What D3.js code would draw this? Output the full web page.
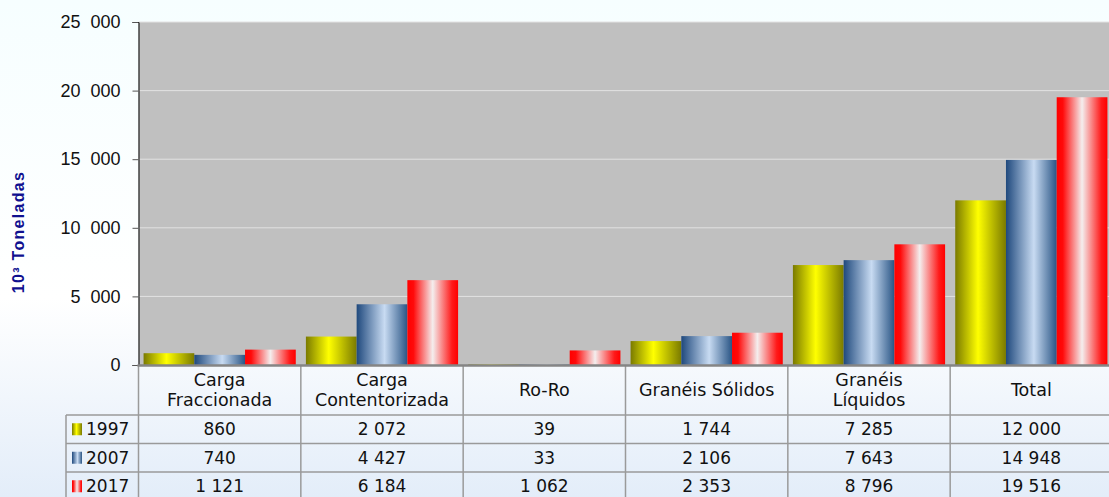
<!DOCTYPE html>
<html>
<head>
<meta charset="utf-8">
<script src="https://cdn.jsdelivr.net/npm/d3@7"></script>
<style>
  html, body { margin: 0; padding: 0; overflow: hidden; }
  body { width: 1109px; height: 497px; }
</style>
</head>
<body>
<div id="chart"></div>
<script>
const categories = ["Carga\nFraccionada", "Carga\nContentorizada", "Ro-Ro", "Granéis Sólidos", "Granéis\nLíquidos", "Total"];
const years = ["1997", "2007", "2017"];
const values1997 = [860, 2072, 39, 1744, 7285, 12000];
const values2007 = [740, 4427, 33, 2106, 7643, 14948];
const values2017 = [1121, 6184, 1062, 2353, 8796, 19516];
const yTicks = [0, 5000, 10000, 15000, 20000, 25000];
const yLabel = "10³ Toneladas";

const series = [values1997, values2007, values2017];

function renderChart() {
    const width = 1109, height = 497;
    const plotLeft = 138.5, plotRight = 1112.5, plotTop = 22, plotBottom = 365;
    const rowH = 28.5, headerBottom = 415, legendLeft = 66;

    const svg = d3.select("#chart").html("").append("svg")
        .attr("width", width)
        .attr("height", height);

    const defs = svg.append("defs");
    const bg = defs.append("linearGradient").attr("id", "bg")
        .attr("x1", 0).attr("y1", 0).attr("x2", 0).attr("y2", 1);
    bg.append("stop").attr("offset", "0%").attr("stop-color", "#f6feff");
    bg.append("stop").attr("offset", "60%").attr("stop-color", "#ffffff");
    bg.append("stop").attr("offset", "100%").attr("stop-color", "#e3edf9");

    // bar fills: horizontal shading
    const fills = [
        [["0%", "#7a7a00"], ["45%", "#ffff00"], ["100%", "#7a7a00"]],
        [["0%", "#1f497d"], ["55%", "#c8dbf2"], ["100%", "#2a5585"]],
        [["0%", "#ff0000"], ["12%", "#ff0a0a"], ["50%", "#f4eeee"], ["88%", "#ff1a1a"], ["100%", "#ff0000"]]
    ];
    fills.forEach((stops, i) => {
        const g = defs.append("linearGradient").attr("id", "fill" + i)
            .attr("x1", 0).attr("y1", 0).attr("x2", 1).attr("y2", 0);
        stops.forEach(s => g.append("stop").attr("offset", s[0]).attr("stop-color", s[1]));
    });

    svg.append("rect").attr("width", width).attr("height", height).attr("fill", "url(#bg)");

    const x = d3.scaleBand().domain(categories).range([plotLeft, plotRight]);
    const xYear = d3.scaleBand().domain(years).range([0, x.bandwidth()]).paddingOuter(0.1);
    const y = d3.scaleLinear().domain([0, 25000]).range([plotBottom, plotTop]);

    const fmt = d3.formatLocale({ decimal: ",", thousands: "\u00a0", grouping: [3], currency: ["", ""] }).format(",d");
    const tickFmt = d3.formatLocale({ decimal: ",", thousands: "\u00a0\u00a0", grouping: [3], currency: ["", ""] }).format(",d");

    // plot area
    svg.append("rect")
        .attr("x", plotLeft).attr("y", plotTop)
        .attr("width", plotRight - plotLeft).attr("height", plotBottom - plotTop)
        .attr("fill", "#c0c0c0");

    svg.append("g").selectAll("line").data(yTicks.filter(d => d > 0)).join("line")
        .attr("x1", plotLeft).attr("x2", plotRight)
        .attr("y1", d => y(d)).attr("y2", d => y(d))
        .attr("stroke", "#e2e2e2").attr("stroke-width", 1);

    // bars
    const groups = svg.append("g").selectAll("g").data(categories).join("g")
        .attr("transform", d => `translate(${x(d)},0)`);
    groups.selectAll("rect")
        .data((c, ci) => years.map((yr, i) => ({ yr, i, v: series[i][ci] })))
        .join("rect")
        .attr("x", d => xYear(d.yr))
        .attr("y", d => y(d.v))
        .attr("width", xYear.bandwidth())
        .attr("height", d => y(0) - y(d.v))
        .attr("fill", d => `url(#fill${d.i})`);

    // y axis
    const yAxis = svg.append("g")
        .attr("transform", `translate(${plotLeft},0)`)
        .call(d3.axisLeft(y).tickValues(yTicks).tickSize(6).tickPadding(12).tickFormat(tickFmt));
    yAxis.select(".domain").attr("stroke", "#000");
    yAxis.selectAll(".tick line").attr("stroke", "#555");
    yAxis.selectAll("text")
        .attr("font-family", "Liberation Sans, Arial, sans-serif")
        .attr("font-size", 18).attr("fill", "#111");

    svg.append("text")
        .attr("transform", "translate(24,232) rotate(-90)")
        .attr("text-anchor", "middle")
        .attr("font-family", "Liberation Sans, Arial, sans-serif")
        .attr("font-weight", "bold")
        .attr("font-size", 16)
        .attr("letter-spacing", 1.3)
        .attr("fill", "#10108f")
        .text(yLabel);

    // data table
    const table = svg.append("g");
    const lineColor = "#9a9a9a";
    const tableBottom = headerBottom + rowH * 3;

    const bounds = categories.map(c => x(c)).concat([plotRight]);
    table.selectAll("line.v").data(bounds).join("line")
        .attr("x1", d => d).attr("x2", d => d)
        .attr("y1", plotBottom).attr("y2", tableBottom)
        .attr("stroke", lineColor).attr("stroke-width", 1.5);
    table.append("line")
        .attr("x1", legendLeft).attr("x2", legendLeft)
        .attr("y1", headerBottom).attr("y2", tableBottom)
        .attr("stroke", lineColor).attr("stroke-width", 1.5);
    table.selectAll("line.h").data(d3.range(4)).join("line")
        .attr("x1", legendLeft).attr("x2", plotRight)
        .attr("y1", i => headerBottom + i * rowH).attr("y2", i => headerBottom + i * rowH)
        .attr("stroke", lineColor).attr("stroke-width", 1.5);

    // x axis line on top of table
    svg.append("line")
        .attr("x1", plotLeft - 1).attr("x2", plotRight)
        .attr("y1", plotBottom + 0.5).attr("y2", plotBottom + 0.5)
        .attr("stroke", "#858585").attr("stroke-width", 2.5);

    const textFont = "DejaVu Sans, Verdana, sans-serif";
    // header labels
    const headers = table.append("g").selectAll("text").data(categories).join("text")
        .attr("x", d => x(d) + x.bandwidth() / 2)
        .attr("text-anchor", "middle")
        .attr("font-family", textFont)
        .attr("font-size", 17.5)
        .attr("fill", "#111");
    headers.each(function (d) {
        const lines = d.split("\n");
        const cy = (plotBottom + headerBottom) / 2;
        const t = d3.select(this);
        lines.forEach((ln, k) => {
            t.append("tspan")
                .attr("x", x(d) + x.bandwidth() / 2)
                .attr("y", cy + (k - (lines.length - 1) / 2) * 20)
                .attr("dy", "0.36em")
                .text(ln);
        });
    });

    // rows
    years.forEach((yr, i) => {
        const cy = headerBottom + rowH * i + rowH / 2;
        table.append("rect")
            .attr("x", 72).attr("y", cy - 6)
            .attr("width", 10).attr("height", 12)
            .attr("fill", `url(#fill${i})`);
        table.append("text")
            .attr("x", 86).attr("y", cy).attr("dy", "0.36em")
            .attr("font-family", textFont).attr("font-size", 17)
            .attr("fill", "#111")
            .text(yr);
        table.append("g").selectAll("text").data(categories).join("text")
            .attr("x", d => x(d) + x.bandwidth() / 2)
            .attr("y", cy).attr("dy", "0.36em")
            .attr("text-anchor", "middle")
            .attr("font-family", textFont).attr("font-size", 17)
            .attr("fill", "#111")
            .text((d, ci) => fmt(series[i][ci]));
    });
}

renderChart();
</script>
</body>
</html>
